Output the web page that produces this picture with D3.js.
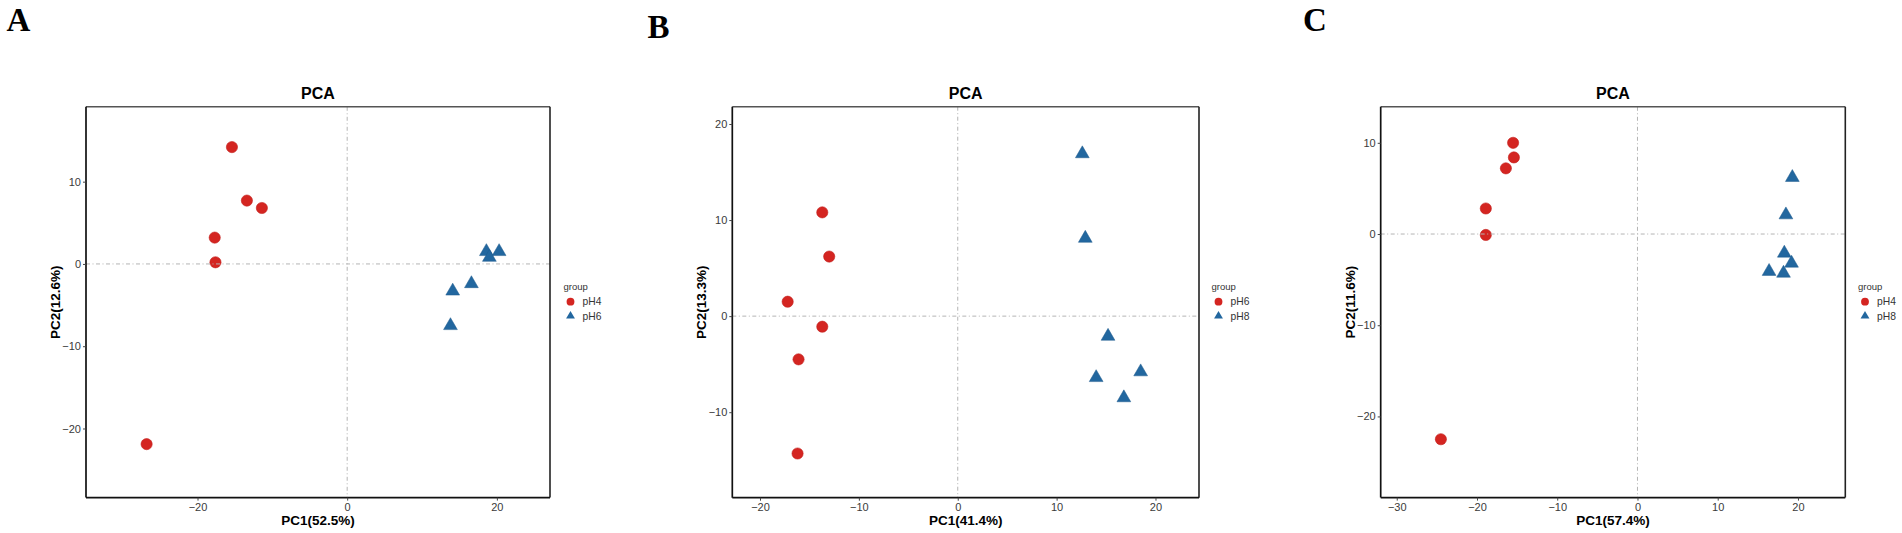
<!DOCTYPE html>
<html>
<head>
<meta charset="utf-8">
<script src="https://cdn.jsdelivr.net/npm/d3@7"></script>
<style>
  html, body { margin: 0; padding: 0; background: #fff; }
  svg { display: block; }
</style>
</head>
<body>
<svg id="chart" width="1902" height="533"></svg>
<script>
// ---------------- DATA ----------------
// Panel A
const panelA_groups = ["pH4", "pH6"];
const panelA_g1_pc1 = [-15.4, -13.4, -11.4, -17.7, -17.6, -26.8];
const panelA_g1_pc2 = [14.2, 7.7, 6.8, 3.2, 0.2, -21.9];
const panelA_g2_pc1 = [18.6, 20.3, 19.0, 16.6, 14.1, 13.8];
const panelA_g2_pc2 = [1.5, 1.5, 0.8, -2.4, -3.3, -7.5];
const panelA_xTicks = [-20, 0, 20];
const panelA_yTicks = [-20, -10, 0, 10];
const panelA_xDomain = [-34.9, 27.1];
const panelA_yDomain = [-28.4, 19.1];
const panelA_xLabel = "PC1(52.5%)";
const panelA_yLabel = "PC2(12.6%)";

// Panel B
const panelB_groups = ["pH6", "pH8"];
const panelB_g1_pc1 = [-13.7, -13.0, -17.2, -13.7, -16.1, -16.2];
const panelB_g1_pc2 = [10.8, 6.2, 1.5, -1.1, -4.5, -14.3];
const panelB_g2_pc1 = [12.6, 12.9, 15.2, 14.0, 18.5, 16.8];
const panelB_g2_pc2 = [16.9, 8.1, -2.1, -6.4, -5.8, -8.5];
const panelB_xTicks = [-20, -10, 0, 10, 20];
const panelB_yTicks = [-10, 0, 10, 20];
const panelB_xDomain = [-22.8, 24.4];
const panelB_yDomain = [-18.9, 21.8];
const panelB_xLabel = "PC1(41.4%)";
const panelB_yLabel = "PC2(13.3%)";

// Panel C
const panelC_groups = ["pH4", "pH8"];
const panelC_g1_pc1 = [-15.5, -15.4, -16.4, -18.9, -18.9, -24.5];
const panelC_g1_pc2 = [10.0, 8.4, 7.2, 2.8, -0.1, -22.5];
const panelC_g2_pc1 = [19.3, 18.5, 18.3, 19.2, 16.4, 18.2];
const panelC_g2_pc2 = [6.2, 2.1, -2.1, -3.2, -4.1, -4.3];
const panelC_xTicks = [-30, -20, -10, 0, 10, 20];
const panelC_yTicks = [-20, -10, 0, 10];
const panelC_xDomain = [-32.0, 25.9];
const panelC_yDomain = [-28.9, 13.95];
const panelC_xLabel = "PC1(57.4%)";
const panelC_yLabel = "PC2(11.6%)";

const panelLetters = ["A", "B", "C"];
const plotTitle = "PCA";
const legendTitle = "group";

// ---------------- STYLE / LAYOUT ----------------
const RED = "#D42521";
const BLUE = "#22679F";
const FONT = "'Liberation Sans', Arial, Helvetica, sans-serif";

const layouts = [
  { left: 86,    right: 550,    top: 106.8, bottom: 497.6, letterX: 6.5,   letterY: 31.3, legendX: 563.5 },
  { left: 732.3, right: 1199,   top: 106.7, bottom: 497.7, letterX: 647.5, letterY: 38.4, legendX: 1211.5 },
  { left: 1380.7, right: 1845.3, top: 106.8, bottom: 497.6, letterX: 1303, letterY: 31.3, legendX: 1858 }
];

function pts(xs, ys) { return xs.map((x, i) => ({ x: x, y: ys[i] })); }

const panels = [
  { groups: panelA_groups, g1: pts(panelA_g1_pc1, panelA_g1_pc2), g2: pts(panelA_g2_pc1, panelA_g2_pc2),
    xTicks: panelA_xTicks, yTicks: panelA_yTicks, xDomain: panelA_xDomain, yDomain: panelA_yDomain,
    xLabel: panelA_xLabel, yLabel: panelA_yLabel },
  { groups: panelB_groups, g1: pts(panelB_g1_pc1, panelB_g1_pc2), g2: pts(panelB_g2_pc1, panelB_g2_pc2),
    xTicks: panelB_xTicks, yTicks: panelB_yTicks, xDomain: panelB_xDomain, yDomain: panelB_yDomain,
    xLabel: panelB_xLabel, yLabel: panelB_yLabel },
  { groups: panelC_groups, g1: pts(panelC_g1_pc1, panelC_g1_pc2), g2: pts(panelC_g2_pc1, panelC_g2_pc2),
    xTicks: panelC_xTicks, yTicks: panelC_yTicks, xDomain: panelC_xDomain, yDomain: panelC_yDomain,
    xLabel: panelC_xLabel, yLabel: panelC_yLabel }
];

const svg = d3.select("#chart");
svg.append("rect").attr("width", 1902).attr("height", 533).attr("fill", "#fff");

const triSym = d3.symbol().type(d3.symbolTriangle).size(82);
const triLegend = d3.symbol().type(d3.symbolTriangle).size(34);

panels.forEach((p, i) => {
  const L = layouts[i];
  const x = d3.scaleLinear().domain(p.xDomain).range([L.left, L.right]);
  const y = d3.scaleLinear().domain(p.yDomain).range([L.bottom, L.top]);
  const g = svg.append("g");

  // panel letter
  g.append("text")
    .attr("x", L.letterX).attr("y", L.letterY)
    .attr("font-family", "'Liberation Serif', 'Times New Roman', serif")
    .attr("font-weight", "bold").attr("font-size", 33)
    .attr("fill", "#000")
    .text(panelLetters[i]);

  // title
  g.append("text")
    .attr("x", (L.left + L.right) / 2).attr("y", 98.5)
    .attr("text-anchor", "middle")
    .attr("font-family", FONT).attr("font-weight", "bold").attr("font-size", 16)
    .attr("fill", "#000")
    .text(plotTitle);

  // points group 1 (circles)
  g.append("g").selectAll("circle").data(p.g1).join("circle")
    .attr("cx", d => x(d.x)).attr("cy", d => y(d.y)).attr("r", 5.6)
    .attr("fill", RED).attr("stroke", "#C21E1B").attr("stroke-width", 0.6);

  // points group 2 (triangles)
  g.append("g").selectAll("path").data(p.g2).join("path")
    .attr("d", triSym)
    .attr("transform", d => `translate(${x(d.x)},${y(d.y)})`)
    .attr("fill", BLUE).attr("stroke", "#1E5A8C").attr("stroke-width", 0.5);

  // zero reference lines (on top, like the original)
  g.append("line")
    .attr("x1", L.left).attr("x2", L.right)
    .attr("y1", y(0)).attr("y2", y(0))
    .attr("stroke", "#b4b4b4").attr("stroke-width", 1)
    .attr("stroke-dasharray", "4 2.5 1 2.5");
  g.append("line")
    .attr("x1", x(0)).attr("x2", x(0))
    .attr("y1", L.top).attr("y2", L.bottom)
    .attr("stroke", "#b4b4b4").attr("stroke-width", 1)
    .attr("stroke-dasharray", "4 2.5 1 2.5");

  // border
  g.append("line").attr("x1", L.left).attr("x2", L.right).attr("y1", L.top).attr("y2", L.top)
    .attr("stroke", "#555").attr("stroke-width", 1.4);
  g.append("line").attr("x1", L.right).attr("x2", L.right).attr("y1", L.top).attr("y2", L.bottom)
    .attr("stroke", "#222").attr("stroke-width", 1.6);

  // axes
  const xAxis = d3.axisBottom(x).tickValues(p.xTicks).tickSize(3).tickPadding(3).tickFormat(d3.format("d"));
  const yAxis = d3.axisLeft(y).tickValues(p.yTicks).tickSize(3).tickPadding(2).tickFormat(d3.format("d"));

  const gx = g.append("g").attr("transform", `translate(0,${L.bottom})`).call(xAxis);
  const gy = g.append("g").attr("transform", `translate(${L.left},0)`).call(yAxis);
  [gx, gy].forEach(ax => {
    ax.select(".domain").attr("stroke", "#111").attr("stroke-width", 1.7);
    ax.selectAll(".tick line").attr("stroke", "#444").attr("stroke-width", 1);
    ax.selectAll(".tick text")
      .attr("font-family", FONT).attr("font-size", 11).attr("fill", "#3a3a3a");
  });
  // ggplot-like domain (no end caps)
  gx.select(".domain").attr("d", `M${L.left},0H${L.right}`);
  gy.select(".domain").attr("d", `M0,${L.top}V${L.bottom}`);

  // axis titles
  g.append("text")
    .attr("x", (L.left + L.right) / 2).attr("y", 525)
    .attr("text-anchor", "middle")
    .attr("font-family", FONT).attr("font-weight", "bold").attr("font-size", 13.5)
    .attr("fill", "#000")
    .text(p.xLabel);
  g.append("text")
    .attr("transform", `translate(${L.left - 26},${(L.top + L.bottom) / 2}) rotate(-90)`)
    .attr("text-anchor", "middle")
    .attr("font-family", FONT).attr("font-weight", "bold").attr("font-size", 13.5)
    .attr("fill", "#000")
    .text(p.yLabel);

  // legend
  const lg = g.append("g").attr("transform", `translate(${L.legendX},0)`);
  lg.append("text").attr("x", 0).attr("y", 290)
    .attr("font-family", FONT).attr("font-size", 9.5).attr("fill", "#333")
    .text(legendTitle);
  lg.append("circle").attr("cx", 7).attr("cy", 301.7).attr("r", 3.9).attr("fill", RED);
  lg.append("path").attr("d", triLegend).attr("transform", "translate(7,316)").attr("fill", BLUE);
  lg.append("text").attr("x", 19).attr("y", 305.3)
    .attr("font-family", FONT).attr("font-size", 10.3).attr("fill", "#333")
    .text(p.groups[0]);
  lg.append("text").attr("x", 19).attr("y", 319.6)
    .attr("font-family", FONT).attr("font-size", 10.3).attr("fill", "#333")
    .text(p.groups[1]);
});
</script>
</body>
</html>
